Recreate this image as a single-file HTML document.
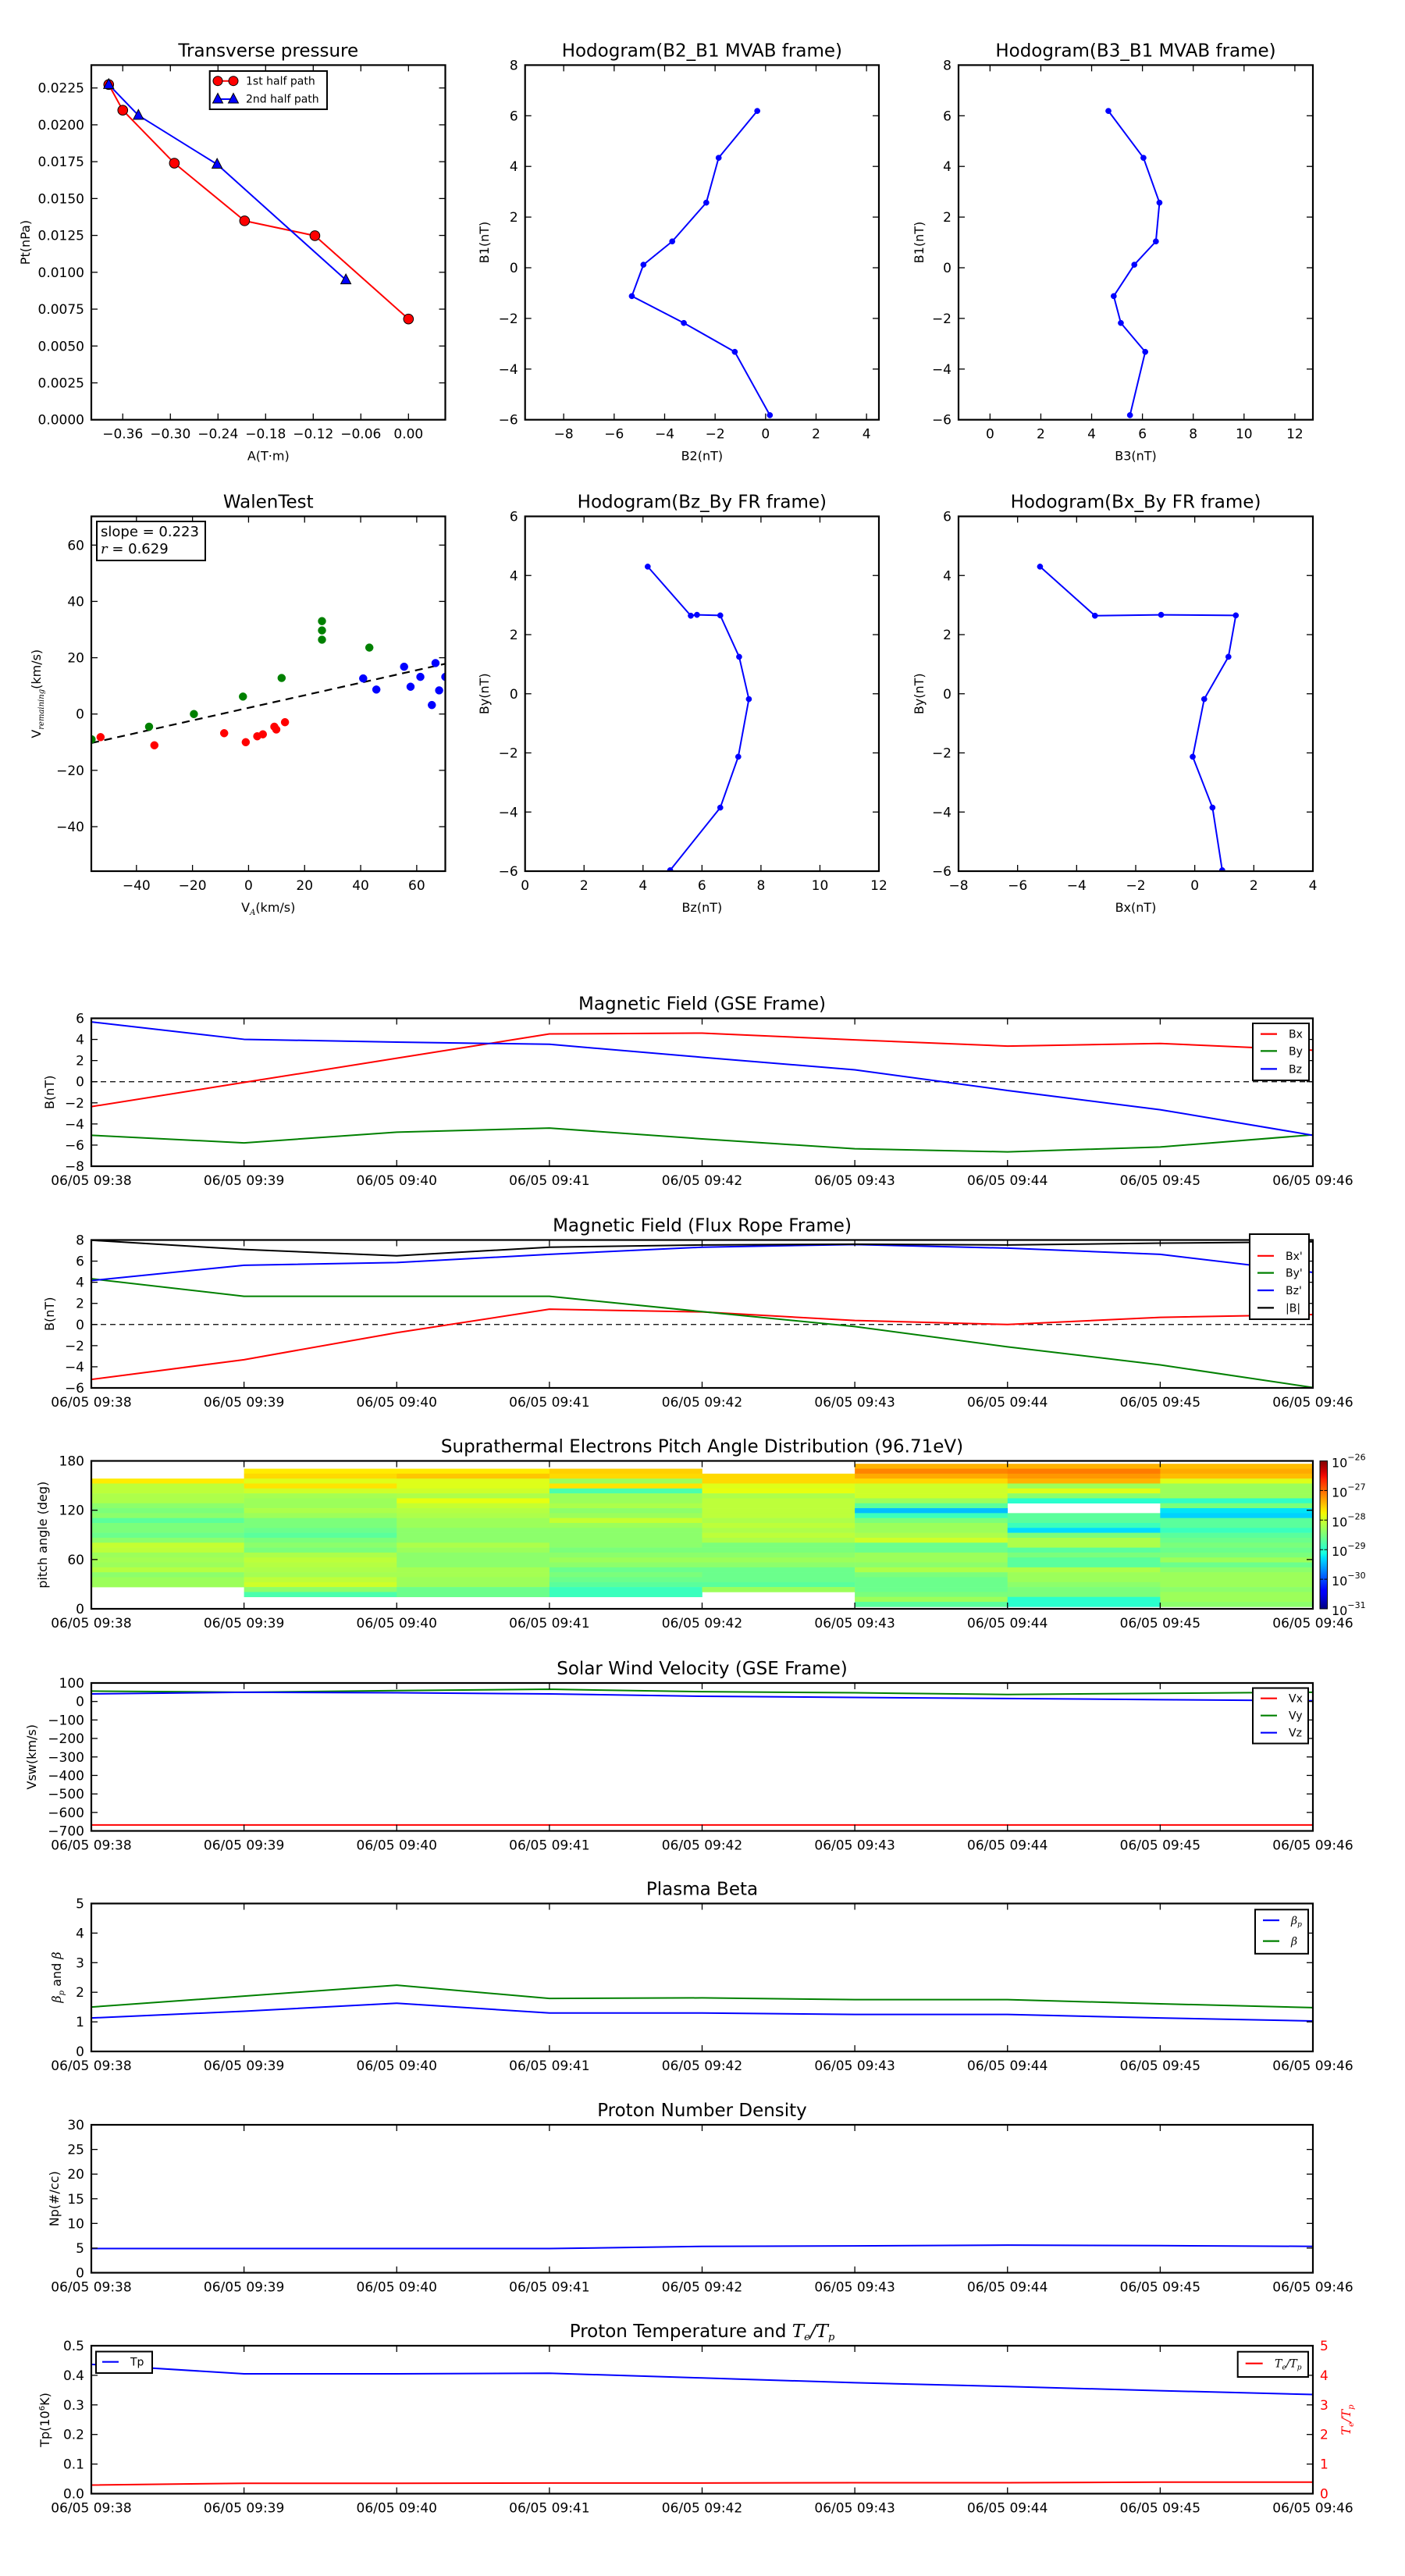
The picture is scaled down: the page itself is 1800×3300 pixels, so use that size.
<!DOCTYPE html>
<html><head><meta charset="utf-8"><title>Flux rope analysis</title>
<style>
html,body{margin:0;padding:0;background:#fff;}
svg{display:block;font-family:"DejaVu Sans","Liberation Sans",sans-serif;}
</style></head>
<body>
<svg id="fig" xmlns="http://www.w3.org/2000/svg" width="1800" height="3300" viewBox="0 0 1800 3300">
<rect x="0" y="0" width="1800" height="3300" fill="#fff"/>
</svg>
<script>
// ---------- data ----------
const ptA1 = [-0.3777, -0.360, -0.295, -0.2065, -0.1179, 0.000];
const ptP1 = [0.02273, 0.02099, 0.01740, 0.01349, 0.01248, 0.00683];
const ptA2 = [-0.3777, -0.3403, -0.2411, -0.0789];
const ptP2 = [0.02273, 0.02064, 0.01732, 0.00948];

const mvB1 = [6.19, 4.34, 2.57, 1.04, 0.12, -1.12, -2.18, -3.32, -5.82];
const mvB2 = [-0.33, -1.86, -2.35, -3.70, -4.84, -5.30, -3.24, -1.22, 0.17];
const mvB3 = [4.66, 6.04, 6.67, 6.53, 5.68, 4.87, 5.15, 6.11, 5.51];

const walenGreenVA = [-56.0, -35.5, -19.5, -2.0, 11.8, 26.2, 26.2, 26.2, 43.1];
const walenGreenVR = [-9.0, -4.5, 0.0, 6.2, 12.8, 33.0, 29.7, 26.4, 23.6];
const walenRedVA = [-52.8, -33.6, -8.7, -1.0, 3.1, 5.1, 9.2, 9.9, 13.0];
const walenRedVR = [-8.2, -11.1, -6.8, -10.0, -7.9, -7.2, -4.5, -5.5, -2.9];
const walenBlueVA = [40.9, 45.6, 55.5, 57.8, 61.3, 65.4, 66.7, 68.0, 70.2];
const walenBlueVR = [12.65, 8.7, 16.8, 9.7, 13.2, 3.2, 18.1, 8.4, 13.2];
const walenSlope = 0.223;
const walenIntercept = 2.2;
const walenR = 0.629;

const hodoBz = [4.16, 5.62, 5.83, 6.62, 7.26, 7.59, 7.23, 6.62, 4.92];
const hodoBy = [4.30, 2.64, 2.67, 2.65, 1.25, -0.18, -2.13, -3.85, -5.97];
const hodoBx = [-5.24, -3.38, -1.14, 1.39, 1.14, 0.32, -0.07, 0.60, 0.93];

const timeLabels = ['06/05 09:38','06/05 09:39','06/05 09:40','06/05 09:41','06/05 09:42','06/05 09:43','06/05 09:44','06/05 09:45','06/05 09:46'];
const minutes = [0, 1, 2, 3, 4, 5, 6, 7, 8];

const gseBx = [-2.36, -0.07, 2.22, 4.52, 4.60, 3.96, 3.37, 3.62, 2.98];
const gseBy = [-5.07, -5.79, -4.78, -4.39, -5.41, -6.35, -6.64, -6.18, -5.03];
const gseBz = [5.66, 4.01, 3.75, 3.54, 2.31, 1.12, -0.83, -2.65, -5.07];

const frBx = [-5.20, -3.33, -0.77, 1.45, 1.19, 0.38, 0.00, 0.68, 0.94];
const frBy = [4.33, 2.67, 2.67, 2.67, 1.22, -0.19, -2.11, -3.82, -5.96];
const frBz = [4.16, 5.61, 5.87, 6.64, 7.32, 7.57, 7.23, 6.64, 4.93];
const frBt = [7.98, 7.10, 6.50, 7.32, 7.53, 7.60, 7.53, 7.70, 7.83];

// pitch angle bins: lower edge 2.5 + 6k ; columns listed top-down (k = 29 ... 0), log10 flux
const padBinLow = 2.5;
const padBinWidth = 6;
const padCol0 = [null,null,null,null,-27.7,-28.1,-28.1,-28.2,-28.2,-28.4,-28.5,-28.4,-28.7,-28.5,-28.5,-28.6,-28.4,-28.05,-28.1,-28.3,-28.25,-28.3,-28.15,-28.4,-28.3,-28.3,null,null,null,null];
const padCol1 = [null,null,-27.7,-27.6,-27.9,-27.65,-28.0,-28.25,-28.3,-28.3,-28.2,-28.3,-28.5,-28.5,-28.6,-28.7,-28.5,-28.4,-28.5,-28.2,-28.1,-28.15,-28.2,-28.25,-28.1,-28.0,-28.4,-28.8,null,null];
const padCol2 = [null,null,-27.7,-27.5,-27.9,-27.9,-28.0,-28.2,-27.85,-28.05,-28.15,-28.2,-28.3,-28.3,-28.4,-28.4,-28.4,-28.2,-28.3,-28.4,-28.4,-28.4,-28.25,-28.25,-28.3,-28.3,-28.6,-28.6,null,null];
const padCol3 = [null,null,-27.55,-27.6,-28.3,-27.65,-28.8,-28.3,-28.3,-28.2,-28.4,-28.3,-28.05,-28.3,-28.4,-28.4,-28.4,-28.4,-28.5,-28.4,-28.3,-28.4,-28.6,-28.5,-28.6,-28.7,-28.9,-28.9,null,null];
const padCol4 = [null,null,null,-27.6,-27.6,-27.9,-27.85,-28.2,-28.1,-28.1,-28.1,-28.1,-28.2,-28.1,-28.2,-28.1,-28.2,-28.5,-28.5,-28.4,-28.3,-28.4,-28.6,-28.6,-28.6,-28.7,-28.3,null,null,null];
const padCol5 = [null,-27.4,-27.15,-27.35,-27.6,-28.0,-28.0,-28.0,-28.3,-28.7,-29.45,-28.9,-28.5,-28.3,-28.3,-28.2,-28.0,-28.6,-28.6,-28.3,-28.3,-28.4,-28.2,-28.5,-28.6,-28.6,-28.6,-28.5,-28.3,-28.7];
const padCol6 = [null,-27.4,-27.1,-27.25,-27.4,-28.3,-27.9,-28.4,-29.0,null,null,-28.7,-28.7,-28.9,-29.3,-28.5,-28.2,-28.2,-28.7,-28.5,-28.7,-28.7,-28.2,-28.3,-28.3,-28.4,-28.5,-28.5,-29.0,-29.0];
const padCol7 = [null,-27.45,-27.35,-27.45,-27.9,-28.3,-28.3,-28.3,-28.95,-28.5,-29.25,-29.35,-28.7,-28.7,-28.9,-28.7,-28.6,-28.5,-28.6,-28.5,-28.3,-28.6,-28.4,-28.3,-28.3,-28.3,-28.4,-28.3,-28.3,-28.4];
const padCols = [padCol0, padCol1, padCol2, padCol3, padCol4, padCol5, padCol6, padCol7];
const padLogMin = -31;
const padLogMax = -26;
const cbarExps = [-26, -27, -28, -29, -30, -31];

const swVx = [-668, -668, -668, -668, -668, -668, -668, -668, -668];
const swVy = [56, 50, 59, 66, 53, 47, 38, 44, 50];
const swVz = [41, 50, 47, 41, 28, 22, 16, 10, 4];

const betaP = [1.13, 1.36, 1.63, 1.30, 1.30, 1.25, 1.25, 1.13, 1.03];
const betaT = [1.50, 1.87, 2.24, 1.79, 1.81, 1.75, 1.75, 1.61, 1.48];

const npDens = [4.9, 4.9, 4.9, 4.9, 5.35, 5.45, 5.6, 5.5, 5.35];

const tpTemp = [0.437, 0.405, 0.405, 0.407, 0.391, 0.375, 0.362, 0.348, 0.335];
const teTp = [0.29, 0.35, 0.35, 0.36, 0.36, 0.37, 0.37, 0.39, 0.39];

// ---------- helpers ----------
const NS = 'http://www.w3.org/2000/svg';
const svg = document.getElementById('fig');
const MINUS = '\u2212';
const TITLE_SIZE = 23;
const TICK_SIZE = 17;
let clipId = 0;
function mk(tag, attrs, parent) {
  const e = document.createElementNS(NS, tag);
  for (const k in attrs) e.setAttribute(k, attrs[k]);
  (parent || svg).appendChild(e);
  return e;
}
function tx(parent, str, x, y, size, anchor, fill) {
  const e = mk('text', {x: x, y: y, 'font-size': size, 'text-anchor': anchor || 'middle', fill: fill || '#000'}, parent);
  e.textContent = str;
  return e;
}
function fmtNum(v, d) {
  const s = Math.abs(v).toFixed(d);
  return (v < -1e-12 ? MINUS : '') + s;
}
function jet(t) {
  t = Math.max(0, Math.min(1, t));
  function interp(pts) {
    for (let i = 0; i < pts.length - 1; i++) {
      if (t <= pts[i + 1][0]) {
        const f = (t - pts[i][0]) / (pts[i + 1][0] - pts[i][0]);
        return pts[i][1] + f * (pts[i + 1][1] - pts[i][1]);
      }
    }
    return pts[pts.length - 1][1];
  }
  const r = interp([[0,0],[0.35,0],[0.66,1],[0.89,1],[1,0.5]]);
  const g = interp([[0,0],[0.125,0],[0.375,1],[0.64,1],[0.91,0],[1,0]]);
  const b = interp([[0,0.5],[0.11,1],[0.34,1],[0.65,0],[1,0]]);
  return 'rgb(' + Math.round(r * 255) + ',' + Math.round(g * 255) + ',' + Math.round(b * 255) + ')';
}

function makeAxes(p) {
  const g = mk('g', {});
  
  
  const sx = v => p.x0 + (v - p.xmin) / (p.xmax - p.xmin) * (p.x1 - p.x0);
  const sy = v => p.y1 - (v - p.ymin) / (p.ymax - p.ymin) * (p.y1 - p.y0);
  clipId++;
  const cp = mk('clipPath', {id: 'clip' + clipId}, g);
  mk('rect', {x: p.x0, y: p.y0, width: p.x1 - p.x0, height: p.y1 - p.y0}, cp);
  const dataG = mk('g', {'clip-path': 'url(#clip' + clipId + ')'}, g);
  
  
  const frameG = mk('g', {}, g);
  
  
  const tl = 8;
  p.xticks.forEach((v, i) => {
    const x = sx(v);
    const t1 = mk('line', {x1: x, y1: p.y1, x2: x, y2: p.y1 - tl, stroke: '#000', 'stroke-width': 1.3}, frameG);
    
    
    mk('line', {x1: x, y1: p.y0, x2: x, y2: p.y0 + tl, stroke: '#000', 'stroke-width': 1.3}, frameG);
    const lab = tx(frameG, p.xlabels[i], x, p.y1 + 24, TICK_SIZE, 'middle');
    
    
  });
  p.yticks.forEach((v, i) => {
    const y = sy(v);
    const t1 = mk('line', {x1: p.x0, y1: y, x2: p.x0 + tl, y2: y, stroke: '#000', 'stroke-width': 1.3}, frameG);
    
    
    mk('line', {x1: p.x1, y1: y, x2: p.x1 - tl, y2: y, stroke: '#000', 'stroke-width': 1.3}, frameG);
    const lab = tx(frameG, p.ylabels[i], p.x0 - 9, y + 6, TICK_SIZE, 'end');
    
    
  });
  const fr = mk('rect', {x: p.x0, y: p.y0, width: p.x1 - p.x0, height: p.y1 - p.y0, fill: 'none', stroke: '#000', 'stroke-width': 2.2}, frameG);
  
  
  const ti = tx(frameG, p.title, (p.x0 + p.x1) / 2, p.y0 - 11, TITLE_SIZE, 'middle');
  
  
  if (p.xlabel) {
    const xl = tx(frameG, p.xlabel, (p.x0 + p.x1) / 2, p.y1 + 52, 16, 'middle');
    
    
  }
  let yl = null;
  if (p.ylabel) {
    const cy = (p.y0 + p.y1) / 2;
    yl = mk('text', {x: 0, y: 0, 'font-size': 16, 'text-anchor': 'middle', transform: 'translate(' + (p.ylabelX + 6) + ',' + cy + ') rotate(-90)'}, frameG);
    yl.textContent = p.ylabel;
    
    
  }
  return {g: g, dataG: dataG, frameG: frameG, sx: sx, sy: sy, p: p, title: ti, ylabelEl: yl};
}
function drawLine(ax, xs, ys, color, width, name) {
  let d = '';
  xs.forEach((x, i) => { d += (i ? 'L' : 'M') + ax.sx(x).toFixed(2) + ' ' + ax.sy(ys[i]).toFixed(2); });
  const e = mk('path', {d: d, fill: 'none', stroke: color, 'stroke-width': width || 2, 'stroke-linejoin': 'round'}, ax.dataG);
  
  
  return e;
}
function drawDots(ax, xs, ys, color, r, name) {
  xs.forEach((x, i) => {
    const c = mk('ellipse', {cx: ax.sx(x), cy: ax.sy(ys[i]), rx: r, ry: r, fill: color, stroke: color, 'stroke-width': 0.5}, ax.dataG);
    
    
  });
}
function zeroLine(ax) {
  const e = mk('line', {x1: ax.p.x0, y1: ax.sy(0), x2: ax.p.x1, y2: ax.sy(0), stroke: '#000', 'stroke-width': 1.3, 'stroke-dasharray': '7,5'}, ax.dataG);
  
  
}
function legendBox(parent, x, y, w, h, name) {
  const g = mk('g', {}, parent);
  
  
  mk('rect', {x: x, y: y, width: w, height: h, fill: '#fff', stroke: '#000', 'stroke-width': 2}, g);
  return g;
}
function legendLine(g, x, y, color, label, name) {
  const l = mk('line', {x1: x, y1: y, x2: x + 21, y2: y, stroke: color, 'stroke-width': 2.2}, g);
  
  
  const t = tx(g, label, x + 36, y + 5, 14, 'start');
  
  
  return t;
}
function range(a, b, s) { const r = []; for (let v = a; v <= b + 1e-9; v += s) r.push(Math.round(v * 1e6) / 1e6); return r; }

// ---------- row 1 ----------
const R1 = {y0: 83.4, y1: 537.7};
const axPt = makeAxes({name: 'transverse-pressure-panel', x0: 117, x1: 570.5, y0: R1.y0, y1: R1.y1,
  xmin: -0.3996, xmax: 0.0464, ymin: 0, ymax: 0.02405,
  xticks: range(-0.36, 0, 0.06), xlabels: range(-0.36, 0, 0.06).map(v => fmtNum(v, 2)),
  yticks: range(0, 0.0225, 0.0025), ylabels: range(0, 0.0225, 0.0025).map(v => v.toFixed(4)),
  title: 'Transverse pressure', xlabel: 'A(T\u00b7m)', ylabel: 'Pt(nPa)', ylabelX: 32});
drawLine(axPt, ptA1, ptP1, '#ff0000', 2, 'first-half-path-line');
drawLine(axPt, ptA2, ptP2, '#0000ff', 2, 'second-half-path-line');
ptA1.forEach((a, i) => {
  const c = mk('circle', {cx: axPt.sx(a), cy: axPt.sy(ptP1[i]), r: 6.3, fill: '#ff0000', stroke: '#000', 'stroke-width': 1}, axPt.dataG);
  
  
});
ptA2.forEach((a, i) => {
  const x = axPt.sx(a), y = axPt.sy(ptP2[i]);
  const t = mk('polygon', {points: x + ',' + (y - 7.5) + ' ' + (x - 6.5) + ',' + (y + 5) + ' ' + (x + 6.5) + ',' + (y + 5), fill: '#0000ff', stroke: '#000', 'stroke-width': 1}, axPt.dataG);
  
  
});
{
  const lg = legendBox(axPt.frameG, 268.7, 91, 150.3, 49, 'pressure-legend');
  mk('line', {x1: 279, y1: 103.7, x2: 299, y2: 103.7, stroke: '#ff0000', 'stroke-width': 2}, lg);
  mk('circle', {cx: 279, cy: 103.7, r: 6, fill: '#ff0000', stroke: '#000', 'stroke-width': 1}, lg);
  mk('circle', {cx: 299, cy: 103.7, r: 6, fill: '#ff0000', stroke: '#000', 'stroke-width': 1}, lg);
  const t1 = tx(lg, '1st half path', 315, 108.7, 14, 'start');
  
  
  mk('line', {x1: 279, y1: 127, x2: 299, y2: 127, stroke: '#0000ff', 'stroke-width': 2}, lg);
  mk('polygon', {points: '279,119.5 272.5,132 285.5,132', fill: '#0000ff', stroke: '#000', 'stroke-width': 1}, lg);
  mk('polygon', {points: '299,119.5 292.5,132 305.5,132', fill: '#0000ff', stroke: '#000', 'stroke-width': 1}, lg);
  const t2 = tx(lg, '2nd half path', 315, 131.7, 14, 'start');
  
  
}

const axB2 = makeAxes({name: 'hodogram-b2-b1-panel', x0: 672.7, x1: 1126, y0: R1.y0, y1: R1.y1,
  xmin: -9.53, xmax: 4.49, ymin: -6, ymax: 8,
  xticks: range(-8, 4, 2), xlabels: range(-8, 4, 2).map(v => fmtNum(v, 0)),
  yticks: range(-6, 8, 2), ylabels: range(-6, 8, 2).map(v => fmtNum(v, 0)),
  title: 'Hodogram(B2_B1 MVAB frame)', xlabel: 'B2(nT)', ylabel: 'B1(nT)', ylabelX: 620});
drawLine(axB2, mvB2, mvB1, '#0000ff', 2, 'b2-b1-line');
drawDots(axB2, mvB2, mvB1, '#0000ff', 3.6, 'b2-b1-point');

const axB3 = makeAxes({name: 'hodogram-b3-b1-panel', x0: 1228, x1: 1682, y0: R1.y0, y1: R1.y1,
  xmin: -1.24, xmax: 12.71, ymin: -6, ymax: 8,
  xticks: range(0, 12, 2), xlabels: range(0, 12, 2).map(v => fmtNum(v, 0)),
  yticks: range(-6, 8, 2), ylabels: range(-6, 8, 2).map(v => fmtNum(v, 0)),
  title: 'Hodogram(B3_B1 MVAB frame)', xlabel: 'B3(nT)', ylabel: 'B1(nT)', ylabelX: 1177});
drawLine(axB3, mvB3, mvB1, '#0000ff', 2, 'b3-b1-line');
drawDots(axB3, mvB3, mvB1, '#0000ff', 3.6, 'b3-b1-point');

// ---------- row 2 ----------
const R2 = {y0: 661.5, y1: 1116};
const axW = makeAxes({name: 'walen-test-panel', x0: 117, x1: 570.5, y0: R2.y0, y1: R2.y1,
  xmin: -56.1, xmax: 70.2, ymin: -55.8, ymax: 70.2,
  xticks: range(-40, 60, 20), xlabels: range(-40, 60, 20).map(v => fmtNum(v, 0)),
  yticks: range(-40, 60, 20), ylabels: range(-40, 60, 20).map(v => fmtNum(v, 0)),
  title: 'WalenTest', xlabel: '', ylabel: '', ylabelX: 46});
{
  const xl = mk('text', {x: (117 + 570.5) / 2, y: R2.y1 + 52, 'font-size': 16, 'text-anchor': 'middle'}, axW.frameG);
  
  
  xl.innerHTML = 'V<tspan font-size="10" dy="4" font-style="italic" font-family="DejaVu Serif, serif">A</tspan><tspan dy="-4">(km/s)</tspan>';
  const yl = mk('text', {x: 0, y: 0, 'font-size': 16, 'text-anchor': 'middle', transform: 'translate(52,' + ((R2.y0 + R2.y1) / 2) + ') rotate(-90)'}, axW.frameG);
  
  
  yl.innerHTML = 'V<tspan font-size="10" dy="4" font-style="italic" font-family="DejaVu Serif, serif">remaining</tspan><tspan dy="-4">(km/s)</tspan>';
}
{
  const fx = [axW.p.xmin, axW.p.xmax];
  const fy = fx.map(v => walenSlope * v + walenIntercept);
  const fl = drawLine(axW, fx, fy, '#000', 2.2, 'walen-fit-line');
  fl.setAttribute('stroke-dasharray', '10,7');
}
drawDots(axW, walenGreenVA, walenGreenVR, '#008000', 5, 'walen-point-green');
drawDots(axW, walenRedVA, walenRedVR, '#ff0000', 5, 'walen-point-red');
drawDots(axW, walenBlueVA, walenBlueVR, '#0000ff', 5, 'walen-point-blue');
{
  const bx = legendBox(axW.frameG, 124, 668, 139, 50, 'walen-stats-box');
  const t1 = tx(bx, 'slope = ' + walenSlope.toFixed(3), 129, 687, 18, 'start');
  
  
  const t2 = mk('text', {x: 129, y: 709, 'font-size': 18}, bx);
  
  
  t2.innerHTML = '<tspan font-style="italic" font-family="DejaVu Serif, serif">r</tspan> = ' + walenR.toFixed(3);
}

const axBzBy = makeAxes({name: 'hodogram-bz-by-panel', x0: 672.7, x1: 1126, y0: R2.y0, y1: R2.y1,
  xmin: 0, xmax: 12, ymin: -6, ymax: 6,
  xticks: range(0, 12, 2), xlabels: range(0, 12, 2).map(v => fmtNum(v, 0)),
  yticks: range(-6, 6, 2), ylabels: range(-6, 6, 2).map(v => fmtNum(v, 0)),
  title: 'Hodogram(Bz_By FR frame)', xlabel: 'Bz(nT)', ylabel: 'By(nT)', ylabelX: 620});
drawLine(axBzBy, hodoBz, hodoBy, '#0000ff', 2, 'bz-by-line');
drawDots(axBzBy, hodoBz, hodoBy, '#0000ff', 3.6, 'bz-by-point');

const axBxBy = makeAxes({name: 'hodogram-bx-by-panel', x0: 1228, x1: 1682, y0: R2.y0, y1: R2.y1,
  xmin: -8, xmax: 4, ymin: -6, ymax: 6,
  xticks: range(-8, 4, 2), xlabels: range(-8, 4, 2).map(v => fmtNum(v, 0)),
  yticks: range(-6, 6, 2), ylabels: range(-6, 6, 2).map(v => fmtNum(v, 0)),
  title: 'Hodogram(Bx_By FR frame)', xlabel: 'Bx(nT)', ylabel: 'By(nT)', ylabelX: 1177});
drawLine(axBxBy, hodoBx, hodoBy, '#0000ff', 2, 'bx-by-line');
drawDots(axBxBy, hodoBx, hodoBy, '#0000ff', 3.6, 'bx-by-point');

// ---------- time series ----------
const TX0 = 117, TX1 = 1682, TH = 189.5;
function timeAxes(name, top, ymin, ymax, yticks, ylabels, title, ylabel, ylabelX) {
  return makeAxes({name: name, x0: TX0, x1: TX1, y0: top, y1: top + TH,
    xmin: 0, xmax: 8, ymin: ymin, ymax: ymax,
    xticks: minutes, xlabels: timeLabels, yticks: yticks, ylabels: ylabels,
    title: title, xlabel: '', ylabel: ylabel, ylabelX: ylabelX});
}

const axGse = timeAxes('magnetic-field-gse-panel', 1304.5, -8, 6, range(-8, 6, 2), range(-8, 6, 2).map(v => fmtNum(v, 0)), 'Magnetic Field (GSE Frame)', 'B(nT)', 63);
zeroLine(axGse);
drawLine(axGse, minutes, gseBx, '#ff0000', 2, 'gse-bx-line');
drawLine(axGse, minutes, gseBy, '#008000', 2, 'gse-by-line');
drawLine(axGse, minutes, gseBz, '#0000ff', 2, 'gse-bz-line');
{
  const lg = legendBox(axGse.frameG, 1605, 1311, 72, 73, 'gse-legend');
  legendLine(lg, 1615, 1324.6, '#ff0000', 'Bx', 'legend-bx');
  legendLine(lg, 1615, 1346.4, '#008000', 'By', 'legend-by');
  legendLine(lg, 1615, 1369.4, '#0000ff', 'Bz', 'legend-bz');
}

const axFr = timeAxes('magnetic-field-flux-rope-panel', 1588.5, -6, 8, range(-6, 8, 2), range(-6, 8, 2).map(v => fmtNum(v, 0)), 'Magnetic Field (Flux Rope Frame)', 'B(nT)', 63);
zeroLine(axFr);
drawLine(axFr, minutes, frBx, '#ff0000', 2, 'fr-bx-line');
drawLine(axFr, minutes, frBy, '#008000', 2, 'fr-by-line');
drawLine(axFr, minutes, frBz, '#0000ff', 2, 'fr-bz-line');
drawLine(axFr, minutes, frBt, '#000000', 2, 'fr-btotal-line');
{
  const lg = legendBox(axFr.frameG, 1601, 1581, 76, 109, 'flux-rope-legend');
  legendLine(lg, 1611, 1608.8, '#ff0000', "Bx'", 'legend-bx-prime');
  legendLine(lg, 1611, 1630.6, '#008000', "By'", 'legend-by-prime');
  legendLine(lg, 1611, 1653, '#0000ff', "Bz'", 'legend-bz-prime');
  legendLine(lg, 1611, 1675.4, '#000000', '|B|', 'legend-btotal');
}

const axPad = timeAxes('pitch-angle-distribution-panel', 1871.5, 0, 180, [0, 60, 120, 180], ['0', '60', '120', '180'], 'Suprathermal Electrons Pitch Angle Distribution (96.71eV)', 'pitch angle (deg)', 54);
padCols.forEach((col, c) => {
  col.forEach((v, i) => {
    if (v === null) return;
    const k = col.length - 1 - i;
    const lo = padBinLow + padBinWidth * k, hi = lo + padBinWidth;
    const x0 = axPad.sx(minutes[c]), x1 = axPad.sx(minutes[c + 1]);
    const y0 = axPad.sy(hi), y1 = axPad.sy(lo);
    const r = mk('rect', {x: x0, y: y0, width: x1 - x0 + 0.3, height: y1 - y0 + 0.3, fill: jet((v - padLogMin) / (padLogMax - padLogMin))}, axPad.dataG);
    
    
  });
});
{
  const cg = mk('g', {});
  
  
  const defs = mk('defs', {}, cg);
  const grad = mk('linearGradient', {id: 'jetgrad', x1: 0, y1: 1, x2: 0, y2: 0}, defs);
  for (let i = 0; i <= 40; i++) mk('stop', {offset: (i / 40), 'stop-color': jet(i / 40)}, grad);
  const cy0 = 1871.5, cy1 = 2061;
  mk('rect', {x: 1691, y: cy0, width: 9.5, height: cy1 - cy0, fill: 'url(#jetgrad)', stroke: '#000', 'stroke-width': 1}, cg);
  cbarExps.forEach(ex => {
    const y = cy1 - (ex - padLogMin) / (padLogMax - padLogMin) * (cy1 - cy0);
    mk('line', {x1: 1691, y1: y, x2: 1695, y2: y, stroke: '#000', 'stroke-width': 1}, cg);
    mk('line', {x1: 1696.5, y1: y, x2: 1700.5, y2: y, stroke: '#000', 'stroke-width': 1}, cg);
    const t = mk('text', {x: 1706, y: y + 8, 'font-size': 16}, cg);
    
    
    t.innerHTML = '10<tspan font-size="11" dy="-9">' + MINUS + Math.abs(ex) + '</tspan>';
  });
}

const axSw = timeAxes('solar-wind-velocity-panel', 2156, -700, 100, range(-700, 100, 100), range(-700, 100, 100).map(v => fmtNum(v, 0)), 'Solar Wind Velocity (GSE Frame)', 'Vsw(km/s)', 40);
drawLine(axSw, minutes, swVx, '#ff0000', 2, 'vx-line');
drawLine(axSw, minutes, swVy, '#008000', 2, 'vy-line');
drawLine(axSw, minutes, swVz, '#0000ff', 2, 'vz-line');
{
  const lg = legendBox(axSw.frameG, 1605, 2162.5, 71, 71, 'velocity-legend');
  legendLine(lg, 1615, 2175.7, '#ff0000', 'Vx', 'legend-vx');
  legendLine(lg, 1615, 2197.7, '#008000', 'Vy', 'legend-vy');
  legendLine(lg, 1615, 2219.7, '#0000ff', 'Vz', 'legend-vz');
}

const axBeta = timeAxes('plasma-beta-panel', 2438.5, 0, 5, range(0, 5, 1), range(0, 5, 1).map(v => fmtNum(v, 0)), 'Plasma Beta', '', 72);
drawLine(axBeta, minutes, betaP, '#0000ff', 2, 'beta-proton-line');
drawLine(axBeta, minutes, betaT, '#008000', 2, 'beta-total-line');
{
  const yl = mk('text', {x: 0, y: 0, 'font-size': 16, 'text-anchor': 'middle', transform: 'translate(78,2533) rotate(-90)'}, axBeta.frameG);
  
  
  yl.innerHTML = '<tspan font-style="italic" font-family="DejaVu Serif, serif">\u03b2</tspan><tspan font-size="10" dy="4" font-style="italic" font-family="DejaVu Serif, serif">p</tspan><tspan dy="-4"> and </tspan><tspan font-style="italic" font-family="DejaVu Serif, serif">\u03b2</tspan>';
  const lg = legendBox(axBeta.frameG, 1608, 2446.3, 68, 56.5, 'beta-legend');
  const l1 = mk('line', {x1: 1618, y1: 2460, x2: 1639, y2: 2460, stroke: '#0000ff', 'stroke-width': 2.2}, lg);
  
  
  const t1 = mk('text', {x: 1654, y: 2465, 'font-size': 14, 'font-style': 'italic', 'font-family': 'DejaVu Serif, serif'}, lg);
  
  
  t1.innerHTML = '\u03b2<tspan font-size="9" dy="3">p</tspan>';
  const l2 = mk('line', {x1: 1618, y1: 2486.6, x2: 1639, y2: 2486.6, stroke: '#008000', 'stroke-width': 2.2}, lg);
  
  
  const t2 = mk('text', {x: 1654, y: 2491.6, 'font-size': 14, 'font-style': 'italic', 'font-family': 'DejaVu Serif, serif'}, lg);
  
  
  t2.textContent = '\u03b2';
}

const axNp = timeAxes('proton-density-panel', 2722, 0, 30, range(0, 30, 5), range(0, 30, 5).map(v => fmtNum(v, 0)), 'Proton Number Density', 'Np(#/cc)', 69);
drawLine(axNp, minutes, npDens, '#0000ff', 2, 'density-line');

const axTp = timeAxes('proton-temperature-panel', 3005, 0, 0.5, range(0, 0.5, 0.1), range(0, 0.5, 0.1).map(v => v.toFixed(1)), '', '', 57);
axTp.title.innerHTML = 'Proton Temperature and <tspan font-style="italic" font-family="DejaVu Serif, serif">T</tspan><tspan font-size="13" dy="4" font-style="italic" font-family="DejaVu Serif, serif">e</tspan><tspan dy="-4" font-style="italic" font-family="DejaVu Serif, serif">/T</tspan><tspan font-size="13" dy="4" font-style="italic" font-family="DejaVu Serif, serif">p</tspan>';
{
  const yl = mk('text', {x: 0, y: 0, 'font-size': 16, 'text-anchor': 'middle', transform: 'translate(63,3100) rotate(-90)'}, axTp.frameG);
  
  
  yl.innerHTML = 'Tp(10<tspan font-size="10" dy="-6">6</tspan><tspan dy="6">K)</tspan>';
}
drawLine(axTp, minutes, tpTemp, '#0000ff', 2, 'proton-temperature-line');
{
  const rmin = 0, rmax = 5;
  const syR = v => axTp.p.y1 - (v - rmin) / (rmax - rmin) * (axTp.p.y1 - axTp.p.y0);
  let d = '';
  minutes.forEach((m, i) => { d += (i ? 'L' : 'M') + axTp.sx(m).toFixed(2) + ' ' + syR(teTp[i]).toFixed(2); });
  const rl = mk('path', {d: d, fill: 'none', stroke: '#ff0000', 'stroke-width': 2}, axTp.dataG);
  
  
  range(0, 5, 1).forEach(v => {
    const t = tx(axTp.frameG, String(v), 1691, syR(v) + 6, TICK_SIZE, 'start', '#ff0000');
    
    
  });
  const ryl = mk('text', {x: 0, y: 0, 'font-size': 16, 'text-anchor': 'middle', fill: '#ff0000', 'font-style': 'italic', 'font-family': 'DejaVu Serif, serif', transform: 'translate(1730,3100) rotate(-90)'}, axTp.frameG);
  
  
  ryl.innerHTML = 'T<tspan font-size="10" dy="4">e</tspan><tspan dy="-4">/T</tspan><tspan font-size="10" dy="4">p</tspan>';
  const lg1 = legendBox(axTp.frameG, 123, 3012.5, 72, 27.5, 'temperature-legend');
  legendLine(lg1, 131, 3025.7, '#0000ff', 'Tp', 'legend-tp');
  const lg2 = legendBox(axTp.frameG, 1585.7, 3012.7, 90.3, 32.3, 'te-tp-legend');
  const l = mk('line', {x1: 1595.7, y1: 3027.7, x2: 1617.7, y2: 3027.7, stroke: '#ff0000', 'stroke-width': 2.2}, lg2);
  
  
  const t = mk('text', {x: 1633, y: 3032.7, 'font-size': 14, 'font-style': 'italic', 'font-family': 'DejaVu Serif, serif'}, lg2);
  
  
  t.innerHTML = 'T<tspan font-size="9" dy="3">e</tspan><tspan dy="-3">/T</tspan><tspan font-size="9" dy="3">p</tspan>';
}
</script>
</body></html>
